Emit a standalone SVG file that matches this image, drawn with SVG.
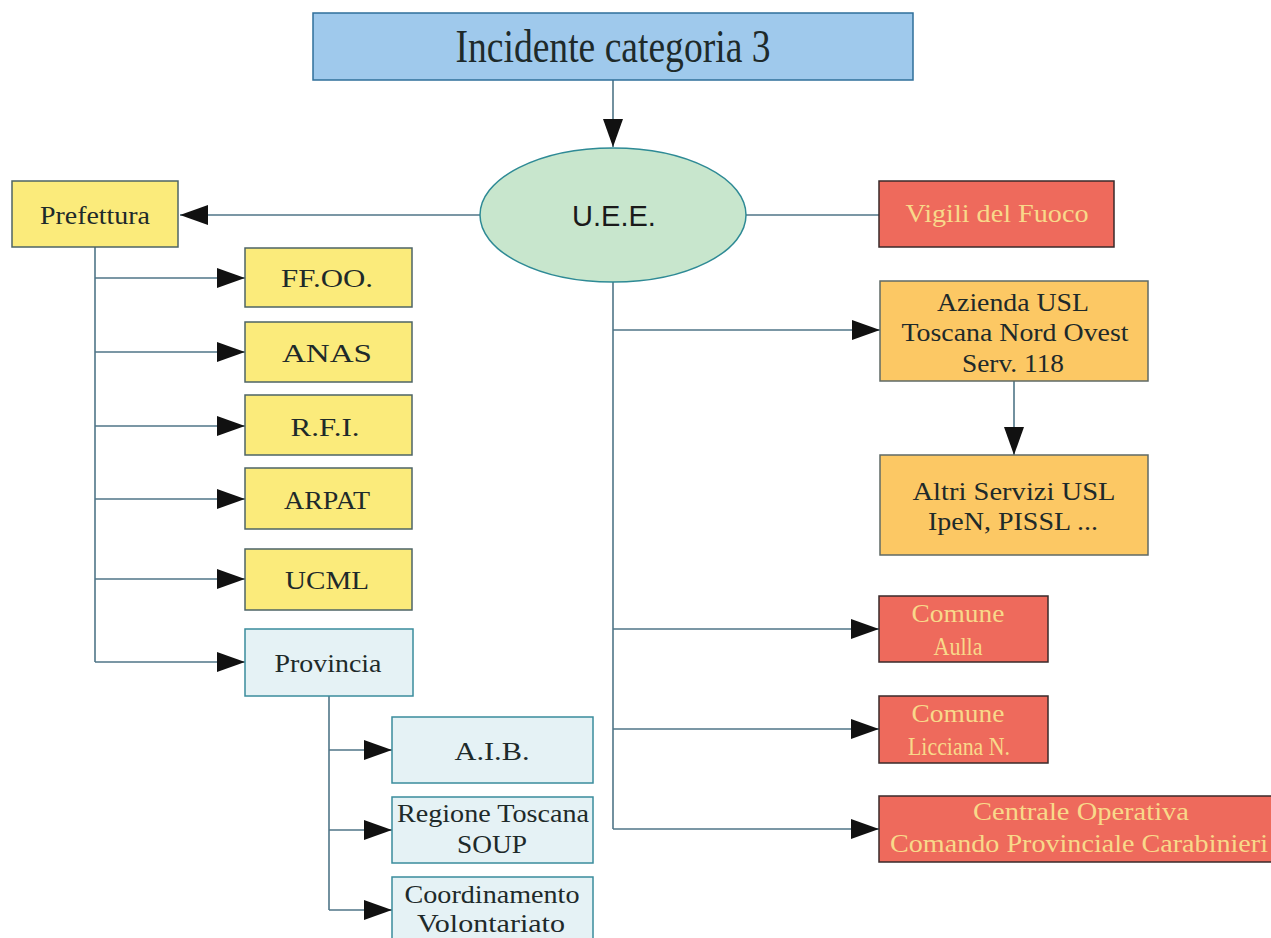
<svg xmlns="http://www.w3.org/2000/svg" width="1271" height="938" viewBox="0 0 1271 938">
<defs>
<marker id="arr" markerUnits="userSpaceOnUse" markerWidth="30" markerHeight="22" refX="28" refY="10" orient="auto">
<path d="M0,0 L28,10 L0,20 z" fill="#111"/>
</marker>
<style>
.ln{fill:none;stroke:#4f7587;stroke-width:1.6}
.t{font-family:"Liberation Serif","Times New Roman",serif;font-size:26px;fill:#1e2a2a;text-anchor:middle}
.tr{font-family:"Liberation Serif","Times New Roman",serif;font-size:26px;fill:#f8d98a;text-anchor:middle}
.y{fill:#fbeb7b;stroke:#4d6466;stroke-width:1.5}
.o{fill:#fcc864;stroke:#5f6a66;stroke-width:1.5}
.r{fill:#ee6a5c;stroke:#3a2a2a;stroke-width:1.5}
.b{fill:#e5f2f5;stroke:#3a8c9c;stroke-width:1.5}
</style>
</defs>
<rect width="1271" height="938" fill="#fff"/>
<g id="connectors">
<path class="ln" d="M613,80 V147" marker-end="url(#arr)"/>
<path class="ln" d="M480,215 H180" marker-end="url(#arr)"/>
<path class="ln" d="M746,215 H879"/>
<path class="ln" d="M95,247 V662"/>
<path class="ln" d="M95,278 H245" marker-end="url(#arr)"/>
<path class="ln" d="M95,352 H245" marker-end="url(#arr)"/>
<path class="ln" d="M95,426 H245" marker-end="url(#arr)"/>
<path class="ln" d="M95,499 H245" marker-end="url(#arr)"/>
<path class="ln" d="M95,579 H245" marker-end="url(#arr)"/>
<path class="ln" d="M95,662 H245" marker-end="url(#arr)"/>
<path class="ln" d="M329,696 V910"/>
<path class="ln" d="M329,750 H392" marker-end="url(#arr)"/>
<path class="ln" d="M329,830 H392" marker-end="url(#arr)"/>
<path class="ln" d="M329,910 H392" marker-end="url(#arr)"/>
<path class="ln" d="M613,282 V829"/>
<path class="ln" d="M613,330 H880" marker-end="url(#arr)"/>
<path class="ln" d="M1014,381 V455" marker-end="url(#arr)"/>
<path class="ln" d="M613,629 H879" marker-end="url(#arr)"/>
<path class="ln" d="M613,729 H879" marker-end="url(#arr)"/>
<path class="ln" d="M613,829 H879" marker-end="url(#arr)"/>
</g>
<g id="incidente">
<rect x="313" y="13" width="600" height="67" fill="#9fc9ec" stroke="#2f6f9a" stroke-width="1.5"/>
<text x="613" y="62" class="t" style="font-size:46px" textLength="315" lengthAdjust="spacingAndGlyphs">Incidente categoria 3</text>
</g>
<g id="uee">
<ellipse cx="613" cy="215" rx="133" ry="67" fill="#c8e6cd" stroke="#2e8a95" stroke-width="1.5"/>
<text x="614" y="226" style="font-family:'Liberation Sans',Arial,sans-serif;font-size:29px;fill:#1a1a1a;text-anchor:middle">U.E.E.</text>
</g>
<g id="prefettura">
<rect x="12" y="181" width="166" height="66" class="y"/>
<text x="95" y="224" class="t" textLength="110" lengthAdjust="spacingAndGlyphs">Prefettura</text>
</g>
<g id="vigili">
<rect x="879" y="181" width="235" height="66" class="r"/>
<text x="997" y="222" class="tr" textLength="183" lengthAdjust="spacingAndGlyphs">Vigili del Fuoco</text>
</g>
<g id="ffoo">
<rect x="245" y="248" width="167" height="59" class="y"/>
<text x="327" y="287" class="t" textLength="92" lengthAdjust="spacingAndGlyphs">FF.OO.</text>
</g>
<g id="anas">
<rect x="245" y="322" width="167" height="60" class="y"/>
<text x="327" y="362" class="t" textLength="90" lengthAdjust="spacingAndGlyphs">ANAS</text>
</g>
<g id="rfi">
<rect x="245" y="395" width="167" height="60" class="y"/>
<text x="325" y="436" class="t" textLength="69" lengthAdjust="spacingAndGlyphs">R.F.I.</text>
</g>
<g id="arpat">
<rect x="245" y="468" width="167" height="61" class="y"/>
<text x="327" y="509" class="t" textLength="86" lengthAdjust="spacingAndGlyphs">ARPAT</text>
</g>
<g id="ucml">
<rect x="245" y="549" width="167" height="61" class="y"/>
<text x="327" y="589" class="t" textLength="84" lengthAdjust="spacingAndGlyphs">UCML</text>
</g>
<g id="provincia">
<rect x="245" y="629" width="168" height="67" class="b"/>
<text x="328" y="672" class="t" textLength="107" lengthAdjust="spacingAndGlyphs">Provincia</text>
</g>
<g id="aib">
<rect x="392" y="717" width="201" height="66" class="b"/>
<text x="492" y="760" class="t" textLength="75" lengthAdjust="spacingAndGlyphs">A.I.B.</text>
</g>
<g id="regione">
<rect x="392" y="797" width="201" height="66" class="b"/>
<text x="493" y="822" class="t" textLength="192" lengthAdjust="spacingAndGlyphs">Regione Toscana</text>
<text x="492" y="853" class="t" textLength="70" lengthAdjust="spacingAndGlyphs">SOUP</text>
</g>
<g id="coordinamento">
<rect x="392" y="877" width="201" height="75" class="b"/>
<text x="492" y="903" class="t" textLength="175" lengthAdjust="spacingAndGlyphs">Coordinamento</text>
<text x="491" y="932" class="t" textLength="148" lengthAdjust="spacingAndGlyphs">Volontariato</text>
</g>
<g id="azienda">
<rect x="880" y="281" width="268" height="100" class="o"/>
<text x="1013" y="311" class="t" textLength="152" lengthAdjust="spacingAndGlyphs">Azienda USL</text>
<text x="1015" y="341" class="t" textLength="227" lengthAdjust="spacingAndGlyphs">Toscana Nord Ovest</text>
<text x="1013" y="372" class="t" textLength="102" lengthAdjust="spacingAndGlyphs">Serv. 118</text>
</g>
<g id="altri">
<rect x="880" y="455" width="268" height="100" class="o"/>
<text x="1014" y="500" class="t" textLength="203" lengthAdjust="spacingAndGlyphs">Altri Servizi USL</text>
<text x="1013" y="530" class="t" textLength="170" lengthAdjust="spacingAndGlyphs">IpeN, PISSL ...</text>
</g>
<g id="aulla">
<rect x="879" y="596" width="169" height="66" class="r"/>
<text x="958" y="622" class="tr" textLength="93" lengthAdjust="spacingAndGlyphs">Comune</text>
<text x="958" y="655" class="tr" textLength="49" lengthAdjust="spacingAndGlyphs">Aulla</text>
</g>
<g id="licciana">
<rect x="879" y="696" width="169" height="67" class="r"/>
<text x="958" y="722" class="tr" textLength="93" lengthAdjust="spacingAndGlyphs">Comune</text>
<text x="959" y="755" class="tr" textLength="102" lengthAdjust="spacingAndGlyphs">Licciana N.</text>
</g>
<g id="centrale">
<rect x="879" y="796" width="400" height="66" class="r"/>
<text x="1081" y="820" class="tr" textLength="216" lengthAdjust="spacingAndGlyphs">Centrale Operativa</text>
<text x="1079" y="852" class="tr" textLength="378" lengthAdjust="spacingAndGlyphs">Comando Provinciale Carabinieri</text>
</g>
</svg>
